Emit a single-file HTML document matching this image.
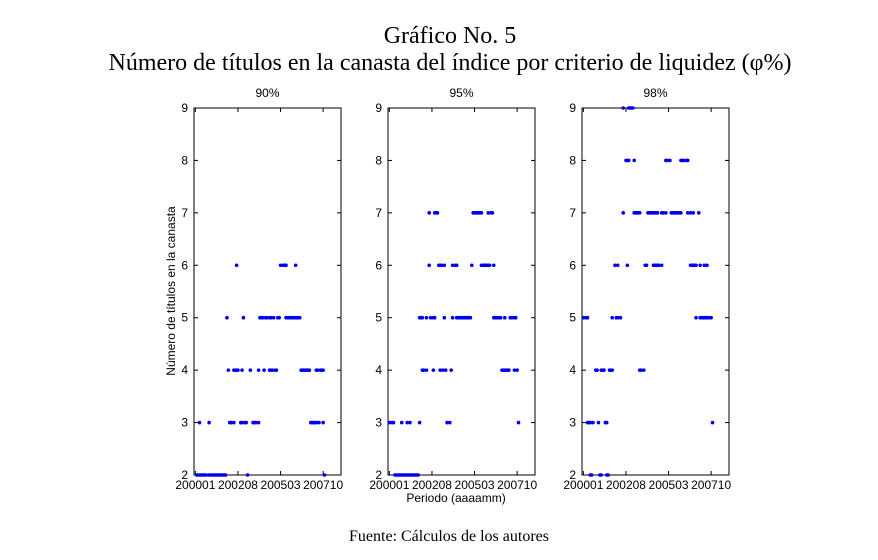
<!DOCTYPE html>
<html><head><meta charset="utf-8"><style>
body{margin:0;background:#fff;width:878px;height:555px;overflow:hidden}
svg text{font-family:"Liberation Sans",sans-serif}
</style></head><body>
<svg width="878" height="555">
<text x="450" y="43" text-anchor="middle" style="font-family:'Liberation Serif',serif;font-size:24px">Gráfico No. 5</text>
<text x="450" y="70" text-anchor="middle" style="font-family:'Liberation Serif',serif;font-size:24px">Número de títulos en la canasta del índice por criterio de liquidez (φ%)</text>
<text transform="translate(175,291) rotate(-90)" text-anchor="middle" font-size="12">Número de títulos en la canasta</text>
<text x="456" y="502" text-anchor="middle" font-size="12">Periodo (aaaamm)</text>
<text x="449" y="541" text-anchor="middle" style="font-family:'Liberation Serif',serif;font-size:16px">Fuente: Cálculos de los autores</text>
<g id="panels"></g>
</svg>
<script>
const panelTitles=["90%","95%","98%"];
const yTicks=[2,3,4,5,6,7,8,9];
const xTickMonths=[0,31,62,93];
const xTickLabels=["200001","200208","200503","200710"];
const p1={2:[1,2,3,4,5,6,7,8,10,11,12,13,14,15,16,17,18,19,20,21,22,38,94],3:[3,10,25,26,28,33,34,36,37,42,43,44,46,84,85,86,87,88,90,93],4:[24,28,29,30,31,34,40,46,50,54,55,56,58,59,77,78,79,80,81,82,83,88,89,91,92,93],5:[23,35,47,48,49,51,52,54,55,57,60,61,66,67,68,69,70,71,72,73,74,75,76],6:[30,62,64,65,66,73]};
const p2={2:[4,5,6,7,8,9,10,11,12,13,14,15,16,17,18,19,20,21],3:[0,2,3,9,13,15,22,42,44,94],4:[24,25,27,32,37,39,41,45,82,83,84,85,86,87,91,93],5:[22,23,24,27,30,32,33,40,46,49,50,51,52,53,54,55,56,57,58,59,76,77,78,79,80,81,84,88,89,91,92],6:[29,36,37,38,40,46,48,49,60,67,68,69,70,71,72,73,76],7:[29,33,34,35,61,62,63,64,65,66,67,72,74,75]};
const p3={2:[5,6,12,13,17,18],3:[3,4,5,7,11,16,17,94],4:[9,10,13,14,15,19,20,21,41,42,44],5:[0,2,3,21,24,25,27,82,85,86,87,88,89,90,91,93],6:[23,25,32,45,46,51,52,53,54,55,57,78,79,80,81,82,85,88,90],7:[29,37,38,39,40,41,47,48,49,50,51,52,53,54,57,58,60,64,65,66,67,68,69,70,71,76,78,80,84],8:[31,32,33,37,60,61,63,71,72,73,75,76],9:[29,33,34,35,36]};
const panelData=[p1,p2,p3];
const NS="http://www.w3.org/2000/svg";
const g=document.getElementById('panels');
const yTop=108,yBot=475,W=147,xmin=-1,xmax=106,ymin=2,ymax=9;
function mk(t,a,parent){const e=document.createElementNS(NS,t);for(const k in a)e.setAttribute(k,a[k]);(parent||g).appendChild(e);return e;}
panelData.forEach((data,i)=>{
  const L=194+i*194;
  const sx=m=>L+(m-xmin)/(xmax-xmin)*W;
  const sy=v=>yBot-(v-ymin)/(ymax-ymin)*(yBot-yTop);
  const grp=mk('g',{});
  
  
  const box=mk('rect',{x:L,y:yTop,width:W,height:yBot-yTop,fill:'none',stroke:'#000','stroke-width':1},grp);
  
  
  const t=mk('text',{x:L+W/2,y:yTop-11,'text-anchor':'middle','font-size':12},grp);t.textContent=panelTitles[i];
  
  
  yTicks.forEach(v=>{
    const y=sy(v);
    mk('line',{x1:L,x2:L+4,y1:y,y2:y,stroke:'#000'},grp);
    mk('line',{x1:L+W,x2:L+W-4,y1:y,y2:y,stroke:'#000'},grp);
    const tx=mk('text',{x:L-6,y:y+4,'text-anchor':'end','font-size':12},grp);tx.textContent=v;
    
    
  });
  xTickMonths.forEach((m,j)=>{
    const x=sx(m);
    mk('line',{x1:x,x2:x,y1:yBot,y2:yBot-4,stroke:'#000'},grp);
    mk('line',{x1:x,x2:x,y1:yTop,y2:yTop+4,stroke:'#000'},grp);
    const tx=mk('text',{x:x,y:yBot+14,'text-anchor':'middle','font-size':12},grp);tx.textContent=xTickLabels[j];
    
    
  });
  Object.keys(data).forEach(k=>{
    data[k].forEach(m=>{
      const c=mk('circle',{cx:sx(m),cy:sy(+k),r:1.8,fill:'#0000ee'},grp);
      
      
    });
  });
});
</script>
</body></html>
